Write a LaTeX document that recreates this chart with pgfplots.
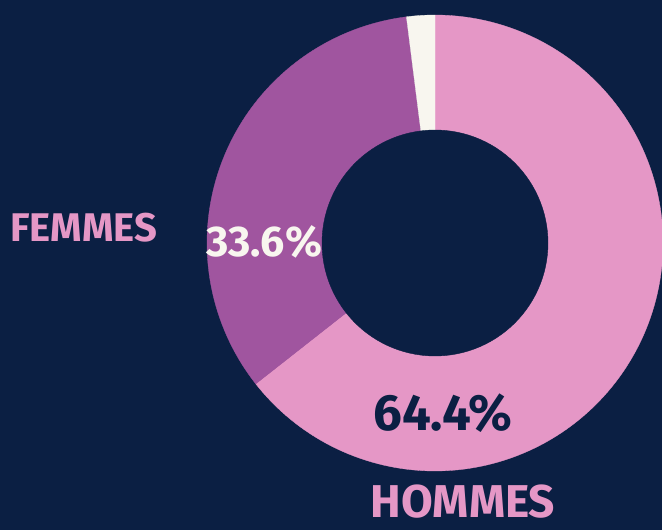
\documentclass[border=0pt]{standalone}
\usepackage{pgfplots}
\pgfplotsset{compat=1.18}
\usepackage{fontspec}
\setmainfont{Fira Sans}
\definecolor{navy}{HTML}{0B1F43}
\definecolor{pinkc}{HTML}{E597C6}
\definecolor{purplec}{HTML}{A0559F}
\definecolor{creamc}{HTML}{F8F6EF}
\begin{document}
\begin{tikzpicture}
\begin{axis}[
  scale only axis, width=662pt, height=530pt,
  xmin=0, xmax=662, ymin=0, ymax=530, y dir=reverse,
  hide axis, clip=true,
]
\fill[navy] (axis cs:0,0) rectangle (axis cs:662,530);
% shares (percent), clockwise from top: Hommes, Femmes, Autre
\def\cx{435}\def\cy{243}\def\R{228}\def\r{113}
% Hommes 64.4 : from 90 to 90-231.84
\addplot[draw=pinkc, line width=0.3pt, fill=pinkc, domain=-141.84:90, samples=150]
  ({\cx+\R*cos(x)}, {\cy-\R*sin(x)}) -- (axis cs:\cx,\cy) -- cycle;
% Femmes 33.6 : from -141.84 to -262.80 (=97.2)
\addplot[draw=purplec, line width=0.3pt, fill=purplec, domain=97.2:218.16, samples=100]
  ({\cx+\R*cos(x)}, {\cy-\R*sin(x)}) -- (axis cs:\cx,\cy) -- cycle;
% Autre 2.0 : from 97.2 to 90
\addplot[draw=creamc, line width=0.3pt, fill=creamc, domain=90:97.2, samples=10]
  ({\cx+\R*cos(x)}, {\cy-\R*sin(x)}) -- (axis cs:\cx,\cy) -- cycle;
% hole
\addplot[draw=navy, fill=navy, domain=0:360, samples=120]
  ({\cx+\r*cos(x)}, {\cy-\r*sin(x)}) -- cycle;
\node[anchor=base west, inner sep=0, text=pinkc, font=\fontsize{40}{40}\selectfont\bfseries] at (axis cs:10,241) {FEMMES};
\node[anchor=base, inner sep=0, text=creamc, font=\fontsize{43}{43}\selectfont\bfseries] at (axis cs:264,256) {33.6\%};
\node[anchor=base, inner sep=0, text=navy, font=\fontsize{51}{51}\selectfont\bfseries] at (axis cs:443,430) {64.4\%};
\node[anchor=base, inner sep=0, text=pinkc, font=\fontsize{46}{46}\selectfont\bfseries] at (axis cs:463,517) {HOMMES};
\end{axis}
\end{tikzpicture}
\end{document}
